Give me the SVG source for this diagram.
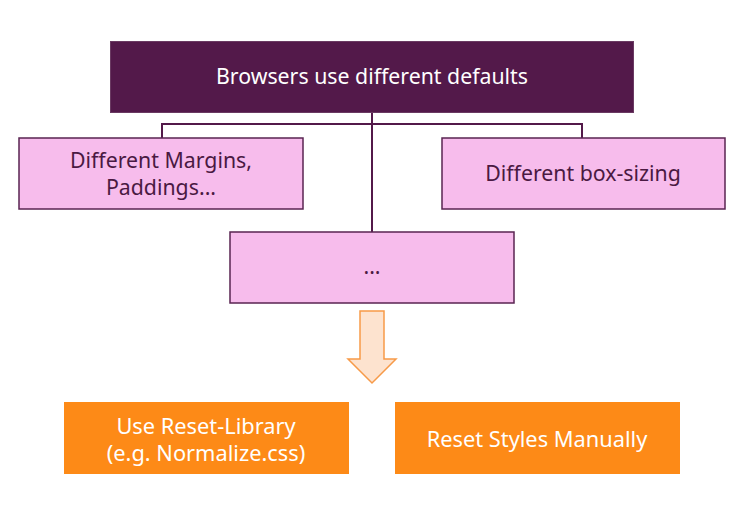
<svg xmlns="http://www.w3.org/2000/svg" width="749" height="527" viewBox="0 0 749 527">
<style>
text{font-family:"Noto Sans","Liberation Sans",sans-serif;font-size:21.3px;text-anchor:middle}
.top{fill:#53194a;stroke:#6a3a62;stroke-width:1}
.pink{fill:#f7bcec;stroke:#5a2552;stroke-width:1.5}
.org{fill:#fd8a17}
.w{fill:#ffffff}
.o{font-size:21.8px}
.p{fill:#4a1942}
.conn{fill:none;stroke:#53194a;stroke-width:2}
</style>
<rect width="749" height="527" fill="#ffffff"/>
<g id="connectors">
<path class="conn" d="M372 112V232M162 138V124H582V138"/>
</g>
<g id="n-browsers"><rect class="top" x="110.5" y="41.5" width="523" height="71"/><text class="w" x="372" y="84">Browsers use different defaults</text></g>
<g id="n-margins"><rect class="pink" x="19" y="138" width="284" height="71"/><text class="p" x="161" y="168">Different Margins,</text><text class="p" x="161" y="195">Paddings...</text></g>
<g id="n-boxsizing"><rect class="pink" x="442" y="138" width="283" height="71"/><text class="p" x="583" y="181">Different box-sizing</text></g>
<g id="n-more"><rect class="pink" x="230" y="232" width="284" height="71"/><text class="p" x="372" y="274">...</text></g>
<g id="arrow"><path d="M360 311H384V359H396L372 383L348 359H360Z" fill="#fde3cf" stroke="#f79a48" stroke-width="1.5"/></g>
<g id="n-library"><rect class="org" x="64" y="402" width="285" height="72"/><text class="w o" x="206" y="434">Use Reset-Library</text><text class="w o" x="206" y="461">(e.g. Normalize.css)</text></g>
<g id="n-manual"><rect class="org" x="395" y="402" width="285" height="72"/><text class="w o" x="537" y="447">Reset Styles Manually</text></g>
</svg>
